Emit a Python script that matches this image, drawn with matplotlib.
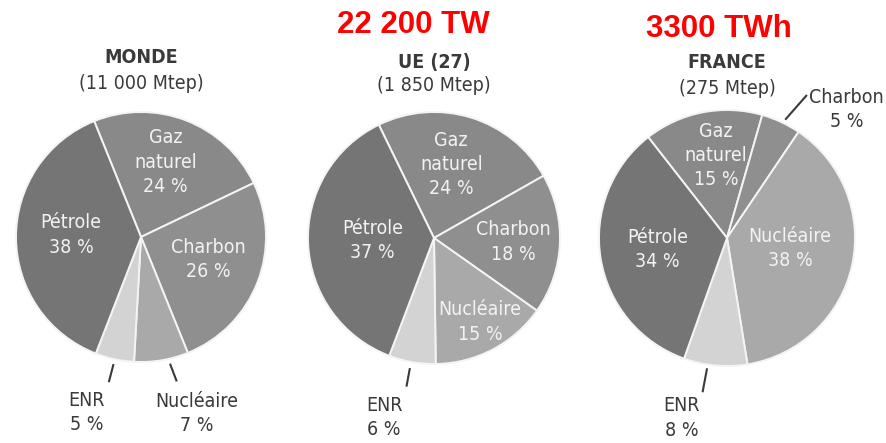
import numpy as np
import matplotlib
matplotlib.use("Agg")
import matplotlib.pyplot as plt
from matplotlib import font_manager

# --- data -------------------------------------------------------------
categories_monde = ["Gaz\nnaturel", "Charbon", "Nucléaire", "ENR", "Pétrole"]
values_monde = [24, 26, 7, 5, 38]

categories_ue = ["Gaz\nnaturel", "Charbon", "Nucléaire", "ENR", "Pétrole"]
values_ue = [24, 18, 15, 6, 37]

categories_france = ["Gaz\nnaturel", "Charbon", "Nucléaire", "ENR", "Pétrole"]
values_france = [15, 5, 38, 8, 34]

titles = ["MONDE", "UE (27)", "FRANCE"]
subtitles = ["(11 000 Mtep)", "(1 850 Mtep)", "(275 Mtep)"]
red_titles = ["", "22 200 TW", "3300 TWh"]

# --- styling ----------------------------------------------------------
colors = {
    "Gaz\nnaturel": "#898989",
    "Charbon": "#8f8f8f",
    "Nucléaire": "#a9a9a9",
    "ENR": "#d3d3d3",
    "Pétrole": "#757575",
}

names = {f.name for f in font_manager.fontManager.ttflist}
if "Liberation Sans Narrow" in names:
    FONT = dict(family=["Liberation Sans Narrow", "DejaVu Sans"])
else:
    FONT = dict(family=["DejaVu Sans"], stretch="condensed")

W, H = 887, 443
fig = plt.figure(figsize=(W / 100, H / 100), dpi=100)
ax = fig.add_axes([0, 0, 1, 1])
ax.set_xlim(0, W)
ax.set_ylim(0, H)
ax.set_aspect("equal")
ax.axis("off")

DARK = "#3a3a3a"
LIGHT = "#f2f2f2"
FS = 14

# per-pie layout: center (x, y from top), radius, start angle,
# inside labels -> (radial fraction, angle shift),
# outside labels -> (text radial fraction, angle shift, leader)
pies = [
    dict(cats=categories_monde, vals=values_monde, cx=141, cy=237, r=125, start=112,
         inside={"Gaz\nnaturel": (0.63, 3), "Pétrole": (0.56, -2), "Charbon": (0.57, 3)},
         outside={"Nucléaire": (1.48, 8, (1.04, 3.5, 1.19, 4.5)),
                  "ENR": (1.47, -5, (1.04, 0, 1.19, -0.3))},
         title_y=(57, 83)),
    dict(cats=categories_ue, vals=values_ue, cx=434, cy=238, r=126, start=116,
         inside={"Gaz\nnaturel": (0.60, 4), "Pétrole": (0.49, 0), "Charbon": (0.63, 0),
                 "Nucléaire": (0.76, 1)},
         outside={"ENR": (1.48, -5.5, (1.05, -0.5, 1.20, -0.5))},
         title_y=(62, 85)),
    dict(cats=categories_france, vals=values_france, cx=727, cy=238, r=128, start=128,
         inside={"Gaz\nnaturel": (0.65, -3.5), "Pétrole": (0.55, 0), "Nucléaire": (0.50, 3)},
         outside={"Charbon": (1.37, -18, (1.03, -1.2, 1.28, -4.2)),
                  "ENR": (1.45, -9, (1.03, -3.5, 1.22, -3.8))},
         title_y=(62, 88)),
]

for i, p in enumerate(pies):
    cx, cy, r = p["cx"], H - p["cy"], p["r"]
    wedges, _ = ax.pie(
        p["vals"], colors=[colors[c] for c in p["cats"]], startangle=p["start"],
        counterclock=False, center=(cx, cy), radius=r, frame=True,
        wedgeprops=dict(edgecolor="#f4f4f4", linewidth=1.4),
    )
    for w, cat, v in zip(wedges, p["cats"], p["vals"]):
        mid = np.deg2rad((w.theta1 + w.theta2) / 2)
        label = f"{cat}\n{v} %"
        if cat in p["inside"]:
            frac, shift = p["inside"][cat]
            a = mid + np.deg2rad(shift)
            ax.text(cx + frac * r * np.cos(a), cy + frac * r * np.sin(a), label,
                    ha="center", va="center", color=LIGHT, fontsize=FS,
                    linespacing=1.35, **FONT)
        else:
            frac, shift, (r0, s0, r1, s1) = p["outside"][cat]
            a = mid + np.deg2rad(shift)
            ax.text(cx + frac * r * np.cos(a), cy + frac * r * np.sin(a), label,
                    ha="center", va="center", color=DARK, fontsize=FS,
                    linespacing=1.35, **FONT)
            a0 = mid + np.deg2rad(s0)
            a1 = mid + np.deg2rad(s1)
            ax.plot([cx + r0 * r * np.cos(a0), cx + r1 * r * np.cos(a1)],
                    [cy + r0 * r * np.sin(a0), cy + r1 * r * np.sin(a1)],
                    color=DARK, lw=1.5, solid_capstyle="butt")

    ty1, ty2 = p["title_y"]
    ax.text(cx, H - ty1, titles[i], ha="center", va="center", color=DARK,
            fontsize=FS, fontweight="bold", **FONT)
    ax.text(cx, H - ty2, subtitles[i], ha="center", va="center", color=DARK,
            fontsize=FS, **FONT)

# headline figures above the EU and France charts
ax.text(413, H - 25, red_titles[1], ha="center", va="center", color="#ff0000",
        fontsize=22.5, fontweight="bold", family=["Liberation Sans", "DejaVu Sans"])
ax.text(719, H - 29, red_titles[2], ha="center", va="center", color="#ff0000",
        fontsize=22.5, fontweight="bold", family=["Liberation Sans", "DejaVu Sans"])

ax.set_xlim(0, W)
ax.set_ylim(0, H)
ax.axis("off")
fig.savefig("out.png", dpi=100, facecolor="white")
